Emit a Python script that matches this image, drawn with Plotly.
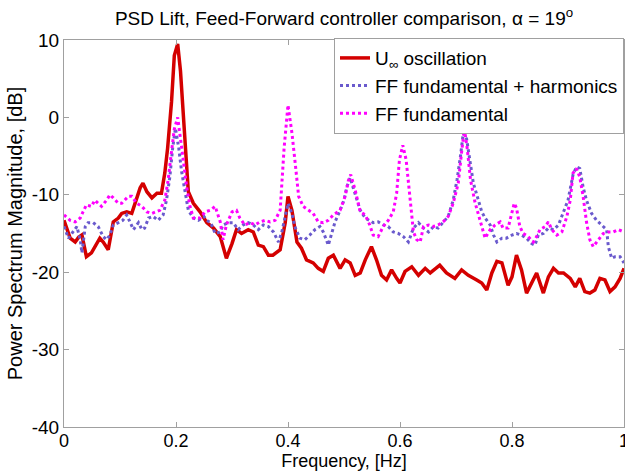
import plotly.graph_objects as go

# ---- data ----
red_f = [0.0, 0.011, 0.02, 0.026, 0.032, 0.04, 0.049, 0.064, 0.07, 0.079,
         0.088, 0.097, 0.103, 0.112, 0.121, 0.127, 0.136, 0.141, 0.148, 0.157,
         0.166, 0.174, 0.18, 0.185, 0.192, 0.197, 0.203, 0.208, 0.213, 0.218,
         0.222, 0.231, 0.243, 0.255, 0.267, 0.279, 0.29, 0.3, 0.308, 0.317,
         0.329, 0.338, 0.347, 0.356, 0.365, 0.373, 0.386, 0.395, 0.4, 0.407,
         0.416, 0.424, 0.433, 0.445, 0.454, 0.463, 0.472, 0.481, 0.493, 0.502,
         0.511, 0.52, 0.529, 0.538, 0.549, 0.558, 0.567, 0.576, 0.585, 0.594,
         0.6, 0.609, 0.621, 0.633, 0.645, 0.654, 0.671, 0.683, 0.698, 0.71,
         0.722, 0.737, 0.746, 0.755, 0.764, 0.773, 0.782, 0.793, 0.8, 0.808,
         0.817, 0.826, 0.835, 0.844, 0.856, 0.865, 0.874, 0.883, 0.892, 0.904,
         0.913, 0.921, 0.93, 0.939, 0.948, 0.957, 0.966, 0.975, 0.984, 0.993,
         1.0]
red_db = [-13.3, -15.6, -16.1, -15.5, -15.2, -18.0, -17.5, -15.6, -16.1, -17.1,
          -13.5, -13.0, -12.4, -12.2, -12.4, -11.1, -9.1, -8.5, -9.6, -10.4,
          -9.8, -9.8, -7.2, -4.0, 2.0, 8.0, 9.5, 6.0, 0.0, -5.5,
          -9.6, -11.1, -12.2, -13.6, -14.3, -15.4, -18.2, -16.3, -14.5, -15.0,
          -14.5, -14.8, -16.5, -16.7, -17.8, -17.8, -17.1, -13.6, -10.2, -12.0,
          -16.1, -16.9, -18.4, -18.8, -19.5, -19.9, -18.2, -17.8, -19.5, -18.4,
          -18.8, -20.4, -20.1, -18.4, -16.7, -18.4, -20.4, -21.0, -19.7, -20.8,
          -21.4, -19.9, -19.3, -20.4, -19.5, -20.1, -19.1, -20.1, -20.8, -19.7,
          -20.4, -21.0, -21.4, -22.3, -20.1, -18.6, -18.8, -21.7, -20.6, -17.8,
          -19.7, -22.7, -21.4, -20.1, -22.7, -20.6, -19.5, -20.1, -20.1, -20.8,
          -21.9, -20.8, -22.5, -22.7, -22.3, -20.8, -21.0, -22.5, -21.9, -20.8,
          -19.5]

harm_f = [0.0, 0.008, 0.016, 0.023, 0.029, 0.032, 0.038, 0.043, 0.052, 0.061,
          0.07, 0.076, 0.082, 0.088, 0.097, 0.105, 0.112, 0.118, 0.124, 0.133,
          0.139, 0.144, 0.151, 0.159, 0.168, 0.177, 0.183, 0.189, 0.194, 0.199,
          0.205, 0.21, 0.216, 0.222, 0.231, 0.24, 0.25, 0.255, 0.262, 0.27,
          0.279, 0.284, 0.293, 0.302, 0.311, 0.32, 0.329, 0.338, 0.347, 0.356,
          0.365, 0.374, 0.383, 0.389, 0.395, 0.4, 0.407, 0.412, 0.421, 0.43,
          0.439, 0.448, 0.457, 0.463, 0.472, 0.478, 0.484, 0.493, 0.5, 0.505,
          0.511, 0.516, 0.523, 0.529, 0.538, 0.546, 0.552, 0.561, 0.57, 0.579,
          0.588, 0.597, 0.606, 0.615, 0.624, 0.633, 0.642, 0.651, 0.66, 0.668,
          0.677, 0.686, 0.695, 0.702, 0.708, 0.713, 0.719, 0.725, 0.731, 0.74,
          0.746, 0.752, 0.761, 0.767, 0.773, 0.782, 0.79, 0.8, 0.808, 0.817,
          0.826, 0.835, 0.841, 0.847, 0.856, 0.865, 0.874, 0.883, 0.892, 0.9,
          0.909, 0.915, 0.921, 0.927, 0.933, 0.942, 0.951, 0.96, 0.969, 0.972,
          0.978, 0.984, 0.993, 1.0]
harm_db = [-14.1, -15.6, -14.8, -14.1, -15.8, -17.5, -14.1, -13.6, -13.6, -14.1,
           -15.4, -15.8, -15.2, -13.9, -13.6, -13.3, -12.6, -13.5, -14.5, -13.6,
           -14.5, -14.3, -13.0, -12.8, -13.3, -12.6, -10.7, -7.7, -4.0, -1.4,
           -4.0, -7.0, -9.8, -12.0, -13.0, -13.3, -12.8, -13.3, -13.6, -15.0,
           -14.8, -13.9, -13.6, -13.6, -14.5, -13.9, -13.6, -13.9, -14.5, -13.9,
           -14.1, -14.8, -16.1, -14.8, -12.8, -11.1, -12.4, -14.1, -15.6, -15.8,
           -15.2, -14.5, -14.1, -14.8, -16.5, -15.0, -13.5, -12.0, -10.7, -9.0,
           -7.8, -9.0, -10.7, -12.0, -13.0, -13.3, -13.6, -13.5, -13.9, -14.1,
           -14.8, -15.0, -15.4, -16.1, -14.3, -13.6, -14.3, -14.8, -14.1, -14.3,
           -13.5, -12.8, -10.7, -8.0, -5.0, -2.0, -2.8, -5.5, -8.5, -10.7,
           -12.2, -13.0, -13.9, -15.2, -16.1, -15.6, -15.6, -15.2, -15.0, -15.2,
           -15.6, -16.3, -16.5, -15.2, -15.0, -14.3, -14.5, -13.9, -12.2, -10.7,
           -7.4, -6.4, -6.6, -9.0, -10.7, -12.4, -13.3, -13.9, -14.5, -16.7,
           -18.2, -18.0, -18.0, -18.8]

fund_f = [0.0, 0.011, 0.02, 0.029, 0.034, 0.04, 0.049, 0.055, 0.061, 0.067,
          0.076, 0.082, 0.088, 0.097, 0.103, 0.115, 0.121, 0.13, 0.139, 0.148,
          0.157, 0.166, 0.171, 0.18, 0.186, 0.191, 0.197, 0.203, 0.208, 0.213,
          0.219, 0.225, 0.231, 0.243, 0.252, 0.261, 0.27, 0.279, 0.284, 0.29,
          0.3, 0.308, 0.314, 0.323, 0.332, 0.341, 0.35, 0.359, 0.368, 0.377,
          0.386, 0.389, 0.393, 0.4, 0.407, 0.413, 0.419, 0.427, 0.436, 0.445,
          0.454, 0.463, 0.472, 0.481, 0.493, 0.502, 0.508, 0.512, 0.52, 0.529,
          0.538, 0.546, 0.552, 0.561, 0.57, 0.579, 0.588, 0.594, 0.599, 0.605,
          0.611, 0.618, 0.624, 0.63, 0.636, 0.642, 0.651, 0.66, 0.668, 0.677,
          0.686, 0.695, 0.704, 0.71, 0.715, 0.72, 0.726, 0.734, 0.743, 0.752,
          0.761, 0.77, 0.779, 0.784, 0.793, 0.8, 0.804, 0.808, 0.814, 0.82,
          0.829, 0.838, 0.844, 0.85, 0.859, 0.865, 0.871, 0.88, 0.889, 0.898,
          0.904, 0.909, 0.915, 0.921, 0.927, 0.933, 0.939, 0.945, 0.954, 0.963,
          0.972, 0.981, 0.99, 1.0]
fund_db = [-12.6, -13.3, -13.5, -13.0, -12.2, -11.3, -11.5, -10.7, -11.1, -11.5,
           -10.7, -10.0, -10.4, -11.1, -11.1, -10.2, -10.2, -11.1, -11.5, -12.2,
           -12.4, -12.2, -12.0, -10.7, -8.1, -5.0, -1.5, 0.0, -2.5, -5.5,
           -9.0, -11.5, -13.0, -13.0, -12.2, -12.0, -11.5, -13.5, -15.8, -13.9,
           -12.2, -12.0, -13.0, -13.9, -13.6, -13.9, -13.5, -13.3, -13.5, -13.3,
           -12.0, -9.0, -4.0, 1.6, -2.0, -6.0, -10.2, -11.5, -12.0, -12.4,
           -13.5, -13.6, -13.3, -12.6, -12.0, -10.2, -8.1, -7.4, -9.4, -12.2,
           -12.6, -13.9, -15.2, -15.4, -14.1, -13.3, -12.2, -9.8, -5.5, -3.6,
           -5.5, -10.7, -14.8, -15.8, -16.1, -14.1, -13.9, -14.1, -13.9, -13.5,
           -12.8, -11.1, -8.5, -4.5, -1.5, -4.0, -8.1, -11.0, -13.3, -15.6,
           -14.5, -13.9, -13.5, -14.3, -14.3, -12.4, -11.1, -11.7, -14.1, -15.0,
           -15.4, -16.1, -15.4, -14.5, -14.1, -13.5, -14.5, -15.2, -14.8, -12.8,
           -10.7, -7.2, -6.6, -7.7, -10.2, -13.5, -15.8, -16.7, -15.8, -15.0,
           -14.8, -14.8, -14.5, -14.8]

series_names = ["U<sub>∞</sub> oscillation", "FF fundamental + harmonics", "FF fundamental"]
x_tickvals = [0, 0.2, 0.4, 0.6, 0.8, 1]
x_ticktext = ["0", "0.2", "0.4", "0.6", "0.8", "1"]
y_tickvals = [-40, -30, -20, -10, 0, 10]
y_ticktext = ["-40", "-30", "-20", "-10", "0", "10"]

FONT = "Liberation Sans, Arial, sans-serif"
AXIS_GRAY = "#a0a0a0"

fig = go.Figure()
fig.add_trace(go.Scatter(x=red_f, y=red_db, mode="lines", name=series_names[0],
                         line=dict(color="#d40000", width=3.5)))
fig.add_trace(go.Scatter(x=harm_f, y=harm_db, mode="lines", name=series_names[1],
                         line=dict(color="#6a5acd", width=3, dash="dot")))
fig.add_trace(go.Scatter(x=fund_f, y=fund_db, mode="lines", name=series_names[2],
                         line=dict(color="#ff00ff", width=3, dash="dot")))

axis_common = dict(showgrid=False, zeroline=False, showline=True, linecolor=AXIS_GRAY,
                   linewidth=1, mirror="ticks", ticks="inside", ticklen=5,
                   tickcolor=AXIS_GRAY, ticklabeloverflow="allow", automargin=False)

fig.update_layout(
    width=625, height=472,
    margin=dict(l=64, r=1, t=40, b=45),
    paper_bgcolor="white", plot_bgcolor="white",
    font=dict(family=FONT, size=18, color="black"),
    title=dict(text="PSD Lift, Feed-Forward controller comparison, α = 19<sup>o</sup>",
               xref="paper", x=0.5, xanchor="center",
               yref="container", y=0.962, yanchor="middle",
               font=dict(size=19, family=FONT, color="black")),
    xaxis=dict(range=[0, 1], tickvals=x_tickvals, ticktext=x_ticktext,
               title=dict(text="Frequency, [Hz]", standoff=0, font=dict(size=18)),
               tickfont=dict(size=18), ticklabelstandoff=-3, **axis_common),
    yaxis=dict(range=[-40, 10], tickvals=y_tickvals, ticktext=y_ticktext,
               title=dict(text="Power Spectrum Magnitude, [dB]", standoff=3, font=dict(size=20)),
               tickfont=dict(size=19), **axis_common),
    legend=dict(x=1.0, xanchor="right", y=1.005, yanchor="top",
                bgcolor="white", bordercolor=AXIS_GRAY, borderwidth=1,
                font=dict(size=19, family=FONT), itemwidth=30,
                tracegroupgap=0),
    showlegend=True,
)

fig.write_html("out.html")
